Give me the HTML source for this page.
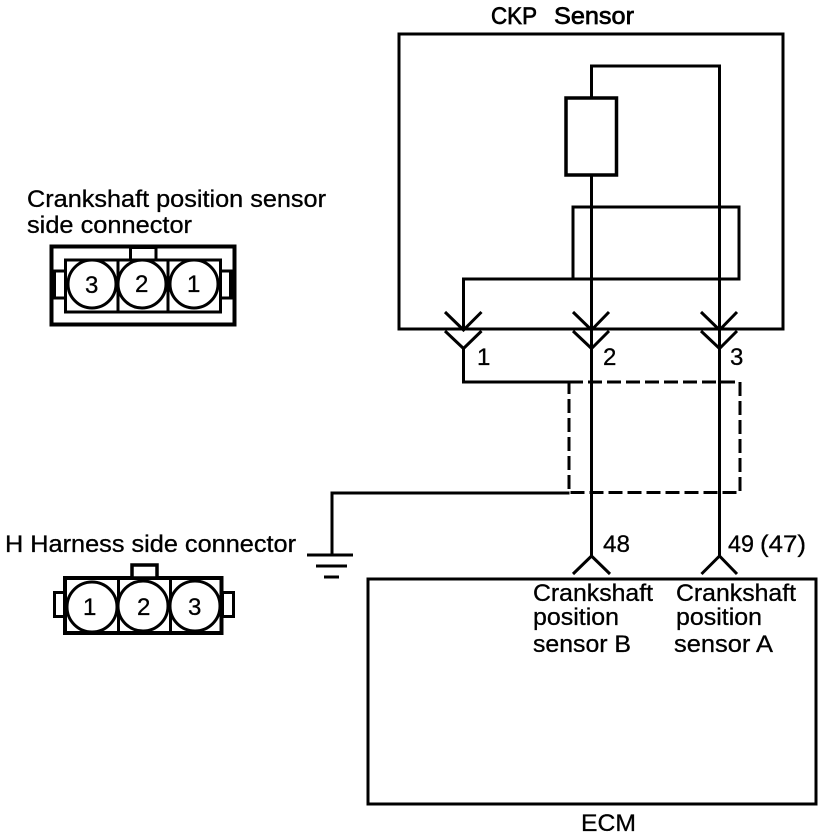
<!DOCTYPE html>
<html>
<head>
<meta charset="utf-8">
<style>
html,body{margin:0;padding:0;background:#fff}
svg{display:block}
text{font-family:"Liberation Sans",sans-serif;fill:#000;font-size:24px;stroke:#000;stroke-width:0.3px}
</style>
</head>
<body>
<svg width="832" height="838" viewBox="0 0 832 838" xmlns="http://www.w3.org/2000/svg">
<g fill="none" stroke="#000" stroke-width="3">
  <!-- CKP sensor box -->
  <rect x="399" y="34" width="384" height="295"/>
  <path d="M591.5 97V66H719.5V329"/>
  <rect x="566" y="98" width="50.5" height="77" stroke-width="3.5" fill="#fff"/>
  <rect x="573" y="207" width="166" height="72"/>
  <path d="M591.5 175V556"/>
  <path d="M719.5 329V556"/>
  <path d="M463.5 329V279H573"/>
  <!-- pins -->
  <path d="M445 312L463.5 330L481.5 312M445 331L463.5 348.500L481.500 331"/>
  <path d="M573 312L591.500 330L609 312M573 331L591.500 348.500L609 331"/>
  <path d="M701 312L719.500 330L737 312M701 331L719.500 348.500L737 331"/>
  <!-- shield -->
  <path d="M463.500 348V382H569"/>
  <path d="M569 382H740V492.500H569V382" stroke-dasharray="14 5"/>
  <path d="M569.500 493H332V555"/>
  <!-- ground -->
  <path d="M307 555H353M316 566H347M324 577H339"/>
  <!-- ECM -->
  <rect x="368" y="579" width="448" height="225"/>
  <path d="M573 574L591.500 556L610 574M701.500 574L719.500 556L737 574"/>
</g>

<!-- upper connector -->
<g fill="none" stroke="#000" stroke-width="3">
  <rect x="51.500" y="246.500" width="183" height="78" stroke-width="4"/>
  <rect x="65.500" y="260" width="155" height="52"/>
  <path d="M118 260V312M168 260V312"/>
  <path d="M130.500 247V259M156 247V259"/>
  <path d="M130 248H156" stroke-width="2"/>
  <path d="M52 271H65M52 298H65M220 271H233M220 298H233"/>
  <circle cx="92" cy="284" r="24" fill="#fff"/>
  <circle cx="142" cy="284" r="24" fill="#fff"/>
  <circle cx="194" cy="284" r="24" fill="#fff"/>
</g>
<rect x="52" y="272" width="4" height="25" fill="#000"/>
<rect x="229" y="272" width="6" height="25" fill="#000"/>

<!-- lower connector -->
<g fill="none" stroke="#000" stroke-width="3">
  <rect x="65" y="578" width="156.500" height="55" stroke-width="4"/>
  <path d="M118.500 578V633M170.500 578V633"/>
  <rect x="132" y="565" width="25" height="13" stroke-width="3.500" fill="#fff"/>
  <rect x="54.500" y="592.500" width="10" height="24"/>
  <rect x="222.500" y="592.500" width="11" height="24"/>
  <circle cx="92" cy="607" r="25" fill="#fff"/>
  <circle cx="143" cy="606" r="25" fill="#fff"/>
  <circle cx="195" cy="606" r="25" fill="#fff"/>
</g>

<!-- labels -->
<text x="491" y="24" textLength="46" lengthAdjust="spacingAndGlyphs" style="stroke-width:.7px">CKP</text>
<text x="554" y="24" textLength="80" lengthAdjust="spacingAndGlyphs" style="stroke-width:.7px">Sensor</text>
<text x="27" y="207" textLength="299" lengthAdjust="spacingAndGlyphs">Crankshaft position sensor</text>
<text x="27" y="233" textLength="165" lengthAdjust="spacingAndGlyphs">side connector</text>
<text x="5" y="552" textLength="291" lengthAdjust="spacingAndGlyphs">H Harness side connector</text>

<text x="85" y="293">3</text>
<text x="135" y="292">2</text>
<text x="187" y="292">1</text>
<text x="83" y="615">1</text>
<text x="137" y="615">2</text>
<text x="188" y="615">3</text>

<text x="477" y="365">1</text>
<text x="603" y="365">2</text>
<text x="730" y="365">3</text>

<text x="603" y="552" textLength="27" lengthAdjust="spacingAndGlyphs">48</text>
<text x="728" y="552" textLength="26" lengthAdjust="spacingAndGlyphs">49</text>
<text x="760" y="552" textLength="46" lengthAdjust="spacingAndGlyphs">(47)</text>

<text x="533" y="601" textLength="120" lengthAdjust="spacingAndGlyphs">Crankshaft</text>
<text x="533" y="625" textLength="86" lengthAdjust="spacingAndGlyphs">position</text>
<text x="533" y="652" textLength="98" lengthAdjust="spacingAndGlyphs">sensor B</text>
<text x="676" y="601" textLength="120" lengthAdjust="spacingAndGlyphs">Crankshaft</text>
<text x="676" y="625" textLength="86" lengthAdjust="spacingAndGlyphs">position</text>
<text x="674" y="652" textLength="99" lengthAdjust="spacingAndGlyphs">sensor A</text>
<text x="581" y="831" textLength="55" lengthAdjust="spacingAndGlyphs">ECM</text>
</svg>
</body>
</html>
